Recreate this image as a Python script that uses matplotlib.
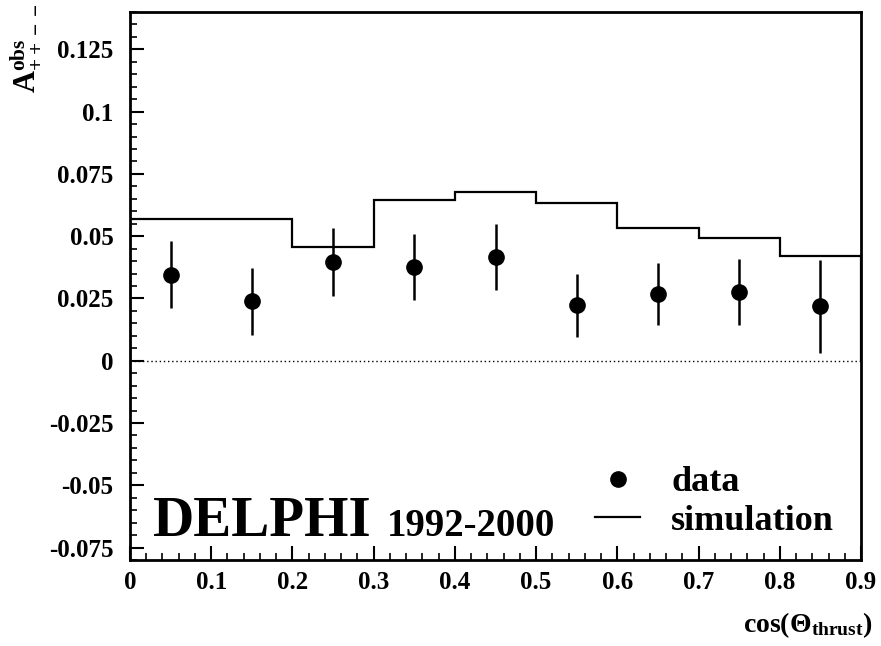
import numpy as np
import matplotlib
matplotlib.use('Agg')
import matplotlib.pyplot as plt
from matplotlib.lines import Line2D
from matplotlib.ticker import MultipleLocator, FixedFormatter, FixedLocator

plt.rcParams['font.family'] = ['Liberation Serif', 'DejaVu Serif']
plt.rcParams['font.weight'] = 'bold'
plt.rcParams['mathtext.fontset'] = 'custom'
plt.rcParams['mathtext.rm'] = 'Liberation Serif:bold'
plt.rcParams['mathtext.bf'] = 'Liberation Serif:bold'
plt.rcParams['mathtext.it'] = 'Liberation Serif:bold'

# data points (bin centres of cos(theta_thrust))
x_data = [0.05, 0.15, 0.25, 0.35, 0.45, 0.55, 0.65, 0.75, 0.85]
y_data = [0.0345, 0.0240, 0.0397, 0.0377, 0.0417, 0.0225, 0.0269, 0.0277, 0.0220]
y_err_lo = [0.0135, 0.0136, 0.0137, 0.0132, 0.0132, 0.0129, 0.0125, 0.0132, 0.0188]
y_err_hi = [0.0135, 0.0133, 0.0137, 0.0133, 0.0133, 0.0125, 0.0124, 0.0133, 0.0185]

# simulation histogram
sim_edges = [0.0, 0.1, 0.2, 0.3, 0.4, 0.5, 0.6, 0.7, 0.8, 0.9]
sim_vals = [0.0570, 0.0570, 0.0457, 0.0646, 0.0678, 0.0634, 0.0534, 0.0494, 0.0421]

y_ticks = [-0.075, -0.05, -0.025, 0, 0.025, 0.05, 0.075, 0.1, 0.125]
y_tick_labels = ['-0.075', '-0.05', '-0.025', '0', '0.025', '0.05', '0.075', '0.1', '0.125']
x_ticks = [0, 0.1, 0.2, 0.3, 0.4, 0.5, 0.6, 0.7, 0.8, 0.9]
x_tick_labels = ['0', '0.1', '0.2', '0.3', '0.4', '0.5', '0.6', '0.7', '0.8', '0.9']

fig = plt.figure(figsize=(8.81, 6.46), dpi=100)
ax = fig.add_axes([130 / 881, 86 / 646, 731 / 881, 548 / 646])

ax.stairs(sim_vals, sim_edges, color='black', linewidth=1.6)
ax.errorbar(x_data, y_data, yerr=[y_err_lo, y_err_hi], fmt='o', color='black',
            markersize=11, elinewidth=1.8, capsize=0)
ax.axhline(0, color='black', linestyle=(0, (1, 2)), linewidth=1.0)

ax.set_xlim(0, 0.9)
ax.set_ylim(-0.08, 0.14)

ax.yaxis.set_major_locator(FixedLocator(y_ticks))
ax.yaxis.set_major_formatter(FixedFormatter(y_tick_labels))
ax.yaxis.set_minor_locator(MultipleLocator(0.005))
ax.xaxis.set_major_locator(FixedLocator(x_ticks))
ax.xaxis.set_major_formatter(FixedFormatter(x_tick_labels))
ax.xaxis.set_minor_locator(MultipleLocator(0.02))

ax.tick_params(axis='both', which='both', direction='in', top=False, right=False,
               labelsize=18)
ax.tick_params(axis='both', which='major', length=10, width=1.5)
ax.tick_params(axis='both', which='minor', length=5, width=1.2)
ax.tick_params(axis='x', pad=8)
ax.tick_params(axis='y', pad=12)
for lab in ax.get_xticklabels() + ax.get_yticklabels():
    lab.set_fontweight('bold')
for sp in ax.spines.values():
    sp.set_linewidth(2)

ax.text(0.031, 0.044, 'DELPHI', transform=ax.transAxes, fontsize=41,
        fontweight='bold', va='baseline', ha='left')
ax.text(0.352, 0.044, '1992-2000', transform=ax.transAxes, fontsize=28,
        fontweight='bold', va='baseline', ha='left')

handles = [Line2D([], [], color='black', marker='o', linestyle='none', markersize=11),
           Line2D([], [], color='black', linewidth=1.6)]
leg = ax.legend(handles, ['data', 'simulation'], loc='lower right',
                bbox_to_anchor=(0.963, 0.040), frameon=False,
                prop={'family': 'Liberation Serif', 'weight': 'bold', 'size': 26},
                handlelength=1.25, handletextpad=0.85, labelspacing=0.15,
                borderpad=0, borderaxespad=0)

fig.text(0.99, 0.022, r'cos($\Theta_{\mathrm{thrust}}$)', fontsize=20,
         fontweight='bold', ha='right', va='baseline')
fig.text(0.029, 0.995, r'$\mathrm{A}^{\mathrm{obs}}_{\mathrm{++--}}$', fontsize=22,
         rotation=90, ha='center', va='top')

fig.savefig('out.png', dpi=100)
